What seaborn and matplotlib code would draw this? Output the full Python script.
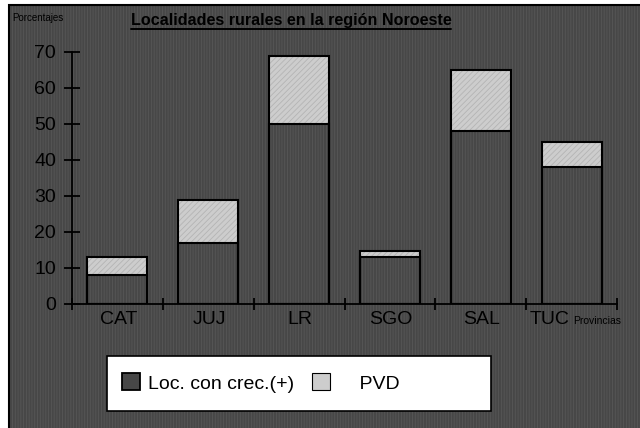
import matplotlib
matplotlib.use("Agg")
import matplotlib.pyplot as plt
from matplotlib.patches import Rectangle, Patch
from matplotlib.lines import Line2D
import matplotlib.transforms as mtransforms
import seaborn as sns
import numpy as np
import pandas as pd

provincias = ["CAT", "JUJ", "LR", "SGO", "SAL", "TUC"]
loc_crec = [8, 17, 50, 13, 48, 38]
pvd = [5, 12, 19, 1.7, 17, 7]
y_ticks = [0, 10, 20, 30, 40, 50, 60, 70]
title = "Localidades rurales en la región Noroeste"
ylabel = "Porcentajes"
xlabel = "Provincias"
legend_labels = ["Loc. con crec.(+)", "PVD"]

df = pd.DataFrame({"prov": provincias, "loc": loc_crec, "pvd": pvd})
df["total"] = df["loc"] + df["pvd"]

sns.set_theme(style="white")
plt.rcParams["font.family"] = ["Liberation Sans", "DejaVu Sans"]
plt.rcParams["hatch.linewidth"] = 0.6

W, H = 640, 428
fig = plt.figure(figsize=(W / 100, H / 100), dpi=100, facecolor="white")

BG = "#474747"
BG_HATCH = "#575757"
LIGHT = "#cdcdcd"
# background with vertical line texture
fig.add_artist(Rectangle((9 / W, 0), 1, 1 - 5 / H, transform=fig.transFigure,
                         facecolor=BG, edgecolor=BG_HATCH, hatch="||||||",
                         linewidth=0, zorder=-20))
fig.add_artist(Rectangle((9 / W, -0.01), 1.02, 1 - 5 / H + 0.01, transform=fig.transFigure,
                         facecolor="none", edgecolor="black", linewidth=1.5, zorder=-19))

ax = fig.add_axes([72 / W, 1 - 304 / H, (617 - 72) / W, (304 - 52) / H])
ax.set_facecolor("none")

bw = 0.66
# light top (PVD) layer
n0 = len(ax.patches)
sns.barplot(data=df, x="prov", y="total", color=LIGHT, width=bw, ax=ax,
            edgecolor="#b4b4b4", linewidth=0, hatch="//////", saturation=1)
for p in ax.patches[n0:]:
    p.set_facecolor(LIGHT)
# bottom layer (background-like)
n1 = len(ax.patches)
sns.barplot(data=df, x="prov", y="loc", color=BG, width=bw, ax=ax,
            edgecolor=BG_HATCH, linewidth=0, hatch="||||||", saturation=1)
for p in ax.patches[n1:]:
    p.set_facecolor(BG)
# outlines
n2 = len(ax.patches)
sns.barplot(data=df, x="prov", y="total", color=LIGHT, width=bw, ax=ax,
            edgecolor="black", linewidth=1.5, saturation=1)
sns.barplot(data=df, x="prov", y="loc", color=BG, width=bw, ax=ax,
            edgecolor="black", linewidth=1.5, saturation=1)
for p in ax.patches[n2:]:
    p.set_facecolor("none")

ax.set_xlim(-0.5, len(provincias) - 0.5)
ax.set_ylim(0, 70)
ax.set_yticks(y_ticks)
ax.set_xlabel("")
ax.set_ylabel("")
for s in ["top", "right"]:
    ax.spines[s].set_visible(False)
for s in ["left", "bottom"]:
    ax.spines[s].set_color("black")
    ax.spines[s].set_linewidth(1.3)

# category labels (drawn as text so the last one can sit left of "Provincias")
ax.set_xticks(np.arange(len(provincias) + 1) - 0.5)
ax.set_xticklabels([])
ax.tick_params(axis="x", which="major", direction="inout", length=9, width=1.3,
               color="black", bottom=True)
ax.tick_params(axis="y", which="major", direction="inout", length=11, width=1.3, color="black",
               pad=6, labelsize=14, labelcolor="black", left=True)
xform = mtransforms.blended_transform_factory(ax.transData, ax.transAxes)
for i, name in enumerate(provincias):
    dx = -22 if i == len(provincias) - 1 else 1
    tr = mtransforms.offset_copy(xform, fig=fig, x=dx, y=-15, units="dots")
    ax.text(i, 0, name, transform=tr, ha="center", va="center", fontsize=14, color="black")

fig.text(12 / W, 1 - 18 / H, ylabel, fontsize=7, color="black", va="center", ha="left")
fig.text(573 / W, 1 - 324 / H, xlabel, fontsize=7.5, color="black", va="baseline", ha="left")

t = fig.text(291 / W, 1 - 20 / H, title, fontsize=11.6, fontweight="bold",
             color="black", ha="center", va="center")
fig.canvas.draw()
bb = t.get_window_extent()
yline = (bb.y0 - 1.0) / H
fig.add_artist(Line2D([bb.x0 / W, bb.x1 / W], [yline, yline], transform=fig.transFigure,
                      color="black", linewidth=1.4))

# legend frame
fig.add_artist(Rectangle((107 / W, 1 - 411 / H), 384 / W, 55 / H, transform=fig.transFigure,
                         facecolor="white", edgecolor="black", linewidth=1.2, zorder=5))
handles = [Patch(facecolor=BG, edgecolor="black", linewidth=1.3),
           Patch(facecolor=LIGHT, edgecolor="black", linewidth=0.8)]
leg = fig.legend(handles, [legend_labels[0], "    " + legend_labels[1]], ncol=2,
                 loc="center left", bbox_to_anchor=(122 / W, 1 - 383 / H),
                 borderaxespad=0, borderpad=0, fontsize=14, frameon=False,
                 handlelength=0.95, handleheight=0.95,
                 handletextpad=0.4, columnspacing=0.9)
leg.set_zorder(6)
for txt in leg.get_texts():
    txt.set_color("black")

fig.savefig("out.png", dpi=100, facecolor="white")
